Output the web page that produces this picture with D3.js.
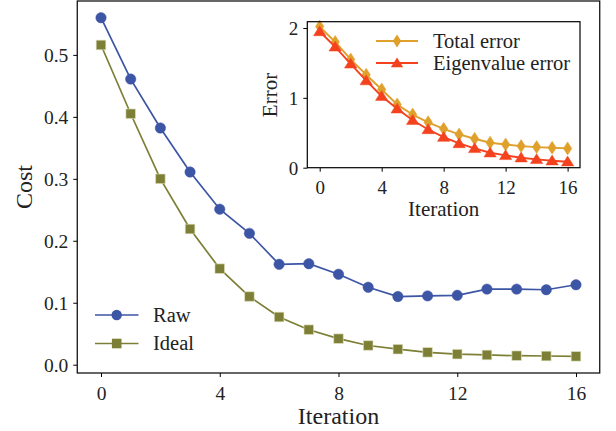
<!DOCTYPE html>
<html>
<head>
<meta charset="utf-8">
<script src="https://cdn.jsdelivr.net/npm/d3@7"></script>
<style>
  body { margin: 0; background: #fff; }
  svg text { font-family: "Liberation Serif", "DejaVu Serif", serif; fill: #222; }
  .axis path, .axis line { stroke: #000; stroke-width: 1; }
</style>
</head>
<body>
<div id="chart"></div>
<script>
// data
var iterations = d3.range(0, 17);
var raw = [0.560, 0.461, 0.382, 0.311, 0.251, 0.212, 0.162, 0.163, 0.146, 0.125,
  0.110, 0.111, 0.112, 0.122, 0.122, 0.121, 0.129];
var ideal = [0.516, 0.405, 0.300, 0.219, 0.155, 0.110, 0.077, 0.0565, 0.042, 0.031,
  0.025, 0.020, 0.017, 0.0157, 0.0145, 0.014, 0.0135];
var total_error = [2.02, 1.80, 1.55, 1.33, 1.12, 0.905, 0.76, 0.65, 0.557, 0.476,
  0.414, 0.357, 0.333, 0.309, 0.295, 0.286, 0.276];
var eigen_error = [1.95, 1.73, 1.486, 1.247, 1.023, 0.843, 0.68, 0.547, 0.437, 0.347,
  0.276, 0.214, 0.176, 0.143, 0.119, 0.10, 0.086];
var x_ticks = [0, 4, 8, 12, 16];
var cost_ticks = [0, 0.1, 0.2, 0.3, 0.4, 0.5];
var error_ticks = [0, 1, 2];

var chart_width = 616;
var chart_height = 431;

var c_raw = '#3c55a5';
var c_ideal = '#7c7f35';
var c_total = '#e0a02c';
var c_eigen = '#f4421f';

var svg = d3.select('#chart')
  .append('svg')
  .attr('width', chart_width)
  .attr('height', chart_height);

// main axes
var x_scale = d3.scaleLinear().domain([-0.8, 16.8]).range([77.25, 599.75]);
var y_scale = d3.scaleLinear().domain([-0.0134, 0.587]).range([373, 1]);

var x_axis = d3.axisBottom(x_scale).tickValues(x_ticks).tickSize(4).tickPadding(4)
  .tickFormat(d3.format('d'));
var y_axis = d3.axisLeft(y_scale).tickValues(cost_ticks).tickSize(4).tickPadding(5)
  .tickFormat(d3.format('.1f'));

svg.append('g')
  .attr('class', 'axis')
  .attr('transform', 'translate(0,373)')
  .call(x_axis)
  .call(g => g.select('.domain').remove())
  .selectAll('text').attr('font-size', '19.5px').attr('fill', '#222').attr('dy', '0.95em');

svg.append('g')
  .attr('class', 'axis')
  .attr('transform', 'translate(77.25,0)')
  .call(y_axis)
  .call(g => g.select('.domain').remove())
  .selectAll('text').attr('font-size', '19.5px').attr('fill', '#222').attr('dy', '0.34em');

svg.append('rect')
  .attr('x', 77.25).attr('y', 1)
  .attr('width', 599.75 - 77.25).attr('height', 372)
  .attr('fill', 'none').attr('stroke', '#000').attr('stroke-width', 1.2);

svg.append('text')
  .attr('x', x_scale(8)).attr('y', 424)
  .attr('text-anchor', 'middle').attr('font-size', '24px')
  .text('Iteration');

svg.append('text')
  .attr('transform', 'translate(32,187) rotate(-90)')
  .attr('text-anchor', 'middle').attr('font-size', '24px')
  .text('Cost');

function draw_series(g, xs, ys, values, color, marker, size, width) {
  var line = d3.line().x((d, i) => xs(iterations[i])).y(d => ys(d));
  g.append('path')
    .datum(values)
    .attr('d', line)
    .attr('fill', 'none')
    .attr('stroke', color)
    .attr('stroke-width', width);
  g.selectAll(null)
    .data(values)
    .enter()
    .append('path')
    .attr('transform', (d, i) => 'translate(' + xs(iterations[i]) + ',' + ys(d) + ')')
    .attr('d', marker_path(marker, size))
    .attr('fill', color)
    .attr('stroke', marker === 'square' ? '#e6e6c8' : color)
    .attr('stroke-width', marker === 'square' ? 0.6 : 0.5);
}

function marker_path(marker, s) {
  if (marker === 'circle') return d3.symbol(d3.symbolCircle, Math.PI * s * s)();
  if (marker === 'square') return 'M' + (-s) + ',' + (-s) + 'h' + (2 * s) + 'v' + (2 * s) + 'h' + (-2 * s) + 'Z';
  if (marker === 'diamond') return 'M0,' + (-s) + 'L' + (s * 0.65) + ',0L0,' + s + 'L' + (-s * 0.65) + ',0Z';
  if (marker === 'triangle') return 'M0,' + (-s) + 'L' + (s * 1.1) + ',' + (s * 0.75) + 'L' + (-s * 1.1) + ',' + (s * 0.75) + 'Z';
}

var main_g = svg.append('g');
draw_series(main_g, x_scale, y_scale, raw, c_raw, 'circle', 5.2, 1.7);
draw_series(main_g, x_scale, y_scale, ideal, c_ideal, 'square', 4.8, 1.7);

// main legend
var legend_items = [
  { name: 'Raw', color: c_raw, marker: 'circle', size: 5.2, y: 315 },
  { name: 'Ideal', color: c_ideal, marker: 'square', size: 4.8, y: 343.5 }
];
legend_items.forEach(function(d) {
  svg.append('line')
    .attr('x1', 95).attr('x2', 138.5).attr('y1', d.y).attr('y2', d.y)
    .attr('stroke', d.color).attr('stroke-width', 1.7);
  svg.append('path')
    .attr('transform', 'translate(116.7,' + d.y + ')')
    .attr('d', marker_path(d.marker, d.size))
    .attr('fill', d.color);
  svg.append('text')
    .attr('x', 153).attr('y', d.y + 6.8)
    .attr('font-size', '20.5px')
    .text(d.name);
});

// inset axes
var ix_scale = d3.scaleLinear().domain([-0.8, 16.8]).range([307.3, 580]);
var iy_scale = d3.scaleLinear().domain([0, 2.09]).range([167.7, 21.7]);

svg.append('rect')
  .attr('x', 307.3).attr('y', 21.7)
  .attr('width', 580 - 307.3).attr('height', 146)
  .attr('fill', '#fff');

var ix_axis = d3.axisBottom(ix_scale).tickValues(x_ticks).tickSize(4).tickPadding(4)
  .tickFormat(d3.format('d'));
var iy_axis = d3.axisLeft(iy_scale).tickValues(error_ticks).tickSize(4).tickPadding(5)
  .tickFormat(d3.format('d'));

svg.append('g')
  .attr('class', 'axis')
  .attr('transform', 'translate(0,167.7)')
  .call(ix_axis)
  .call(g => g.select('.domain').remove())
  .selectAll('text').attr('font-size', '19px').attr('fill', '#222').attr('dy', '0.95em');

svg.append('g')
  .attr('class', 'axis')
  .attr('transform', 'translate(307.3,0)')
  .call(iy_axis)
  .call(g => g.select('.domain').remove())
  .selectAll('text').attr('font-size', '19px').attr('fill', '#222').attr('dy', '0.34em');

var inset_g = svg.append('g');
draw_series(inset_g, ix_scale, iy_scale, total_error, c_total, 'diamond', 6.5, 1.9);
draw_series(inset_g, ix_scale, iy_scale, eigen_error, c_eigen, 'triangle', 5.6, 1.9);

svg.append('rect')
  .attr('x', 307.3).attr('y', 21.7)
  .attr('width', 580 - 307.3).attr('height', 146)
  .attr('fill', 'none').attr('stroke', '#000').attr('stroke-width', 1.2);

svg.append('text')
  .attr('x', ix_scale(8)).attr('y', 216)
  .attr('text-anchor', 'middle').attr('font-size', '21px')
  .text('Iteration');

svg.append('text')
  .attr('transform', 'translate(277,95) rotate(-90)')
  .attr('text-anchor', 'middle').attr('font-size', '21px')
  .text('Error');

var inset_legend = [
  { name: 'Total error', color: c_total, marker: 'diamond', size: 6.5, y: 41 },
  { name: 'Eigenvalue error', color: c_eigen, marker: 'triangle', size: 5.6, y: 63 }
];
inset_legend.forEach(function(d) {
  svg.append('line')
    .attr('x1', 376).attr('x2', 418).attr('y1', d.y).attr('y2', d.y)
    .attr('stroke', d.color).attr('stroke-width', 1.9);
  svg.append('path')
    .attr('transform', 'translate(397,' + d.y + ')')
    .attr('d', marker_path(d.marker, d.size))
    .attr('fill', d.color);
  svg.append('text')
    .attr('x', 433).attr('y', d.y + 6.8)
    .attr('font-size', '20.5px')
    .text(d.name);
});
</script>
</body>
</html>
